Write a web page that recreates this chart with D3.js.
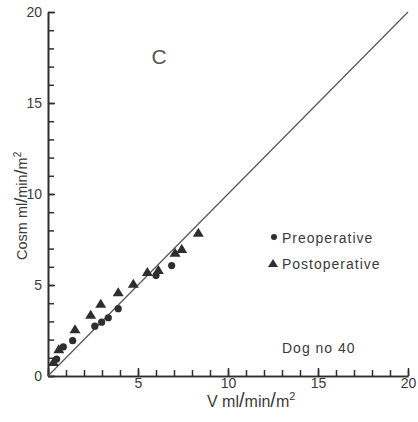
<!DOCTYPE html>
<html><head><meta charset="utf-8">
<script src="https://cdn.jsdelivr.net/npm/d3@7/dist/d3.min.js"></script>
<style>body{margin:0;background:#fff}svg{display:block}text{font-family:"Liberation Sans",Arial,sans-serif;fill:#3a3a3a}</style>
</head><body>
<script>
const preV = [0.48, 0.85, 1.37, 2.6, 2.98, 3.35, 3.9, 6.0, 6.87];
const preC = [0.93, 1.6, 1.94, 2.74, 2.96, 3.2, 3.7, 5.52, 6.07];
const postV = [0.3, 0.6, 1.5, 2.37, 2.93, 3.9, 4.74, 5.52, 6.13, 7.06, 7.43, 8.35];
const postC = [0.8, 1.5, 2.6, 3.39, 4.0, 4.63, 5.1, 5.74, 5.85, 6.8, 7.0, 7.9];
const majorTicks = [0, 5, 10, 15, 20];
const minorTicks = d3.range(0, 21, 1);
const legendLabels = ["Preoperative", "Postoperative"];
const panelLabel = "C";
const noteLabel = "Dog no 40";

const W = 418, H = 422;
const svg = d3.select("body").append("svg").attr("width", W).attr("height", H);
const x = d3.scaleLinear().domain([0, 20]).range([48, 408]);
const y = d3.scaleLinear().domain([0, 20]).range([376, 12]);
const ink = "#2e2e2e";

const gx = svg.append("g").attr("transform", `translate(0,${y(0)})`)
  .call(d3.axisBottom(x).tickValues(minorTicks).tickSizeInner(-6).tickSizeOuter(0).tickFormat(""));
const gx2 = svg.append("g").attr("transform", `translate(0,${y(0)})`)
  .call(d3.axisBottom(x).tickValues(majorTicks).tickSizeInner(-8).tickSizeOuter(0).tickPadding(2));
const gy = svg.append("g").attr("transform", `translate(${x(0)},0)`)
  .call(d3.axisLeft(y).tickValues(minorTicks).tickSizeInner(-6).tickSizeOuter(0).tickFormat(""));
const gy2 = svg.append("g").attr("transform", `translate(${x(0)},0)`)
  .call(d3.axisLeft(y).tickValues(majorTicks).tickSizeInner(-7).tickSizeOuter(0).tickPadding(6));
[gx, gx2, gy, gy2].forEach(g => {
  g.select(".domain").attr("stroke", ink).attr("stroke-width", 1.6);
  g.selectAll(".tick line").attr("stroke", ink).attr("stroke-width", 1.5);
  g.selectAll(".tick text").attr("fill", "#3a3a3a").style("font-size", "14px").style("font-family", "'Liberation Sans',Arial,sans-serif");
});
gx2.selectAll(".tick").filter(d => d === 0).select("text").remove();

svg.append("line").attr("x1", x(0)).attr("y1", y(0)).attr("x2", x(20)).attr("y2", y(20))
  .attr("stroke", "#555").attr("stroke-width", 1.2);

const tri = (cx, cy, w, h) => `M${cx - w / 2},${cy + h / 2}L${cx + w / 2},${cy + h / 2}L${cx},${cy - h / 2}Z`;

svg.append("g").selectAll("circle").data(preV).join("circle")
  .attr("cx", (d) => x(d)).attr("cy", (d, i) => y(preC[i])).attr("r", 3.6).attr("fill", ink);
svg.append("g").selectAll("path").data(postV).join("path")
  .attr("d", (d, i) => tri(x(d), y(postC[i]), 11, 9)).attr("fill", ink);

svg.append("circle").attr("cx", 274).attr("cy", 237).attr("r", 3).attr("fill", ink);
svg.append("path").attr("d", tri(273, 263, 10, 8)).attr("fill", ink);
svg.append("text").attr("x", 282).attr("y", 242.5).style("font-size", "14px").style("letter-spacing", "1px").text(legendLabels[0]);
svg.append("text").attr("x", 282).attr("y", 268.5).style("font-size", "14px").style("letter-spacing", "1px").text(legendLabels[1]);

svg.append("text").attr("x", 159).attr("y", 63.5).attr("text-anchor", "middle").style("font-size", "21px").style("fill", "#555").text(panelLabel);
svg.append("text").attr("x", 282).attr("y", 353).style("font-size", "14px").style("letter-spacing", "1px").text(noteLabel);

const xt = svg.append("text").attr("x", 207).attr("y", 407).style("font-size", "16px");
xt.append("tspan").text("V ml");
xt.append("tspan").style("font-size", "20px").text("/");
xt.append("tspan").text("min");
xt.append("tspan").style("font-size", "20px").text("/");
xt.append("tspan").text("m");
xt.append("tspan").attr("dy", -7).style("font-size", "11px").text("2");

const yt = svg.append("text").attr("transform", "translate(27,260) rotate(-90)").style("font-size", "14.5px");
yt.append("tspan").text("Cosm  ml");
yt.append("tspan").style("font-size", "18px").text("/");
yt.append("tspan").text("min");
yt.append("tspan").style("font-size", "18px").text("/");
yt.append("tspan").text("m");
yt.append("tspan").attr("dy", -6).style("font-size", "10px").text("2");
</script>
</body></html>
